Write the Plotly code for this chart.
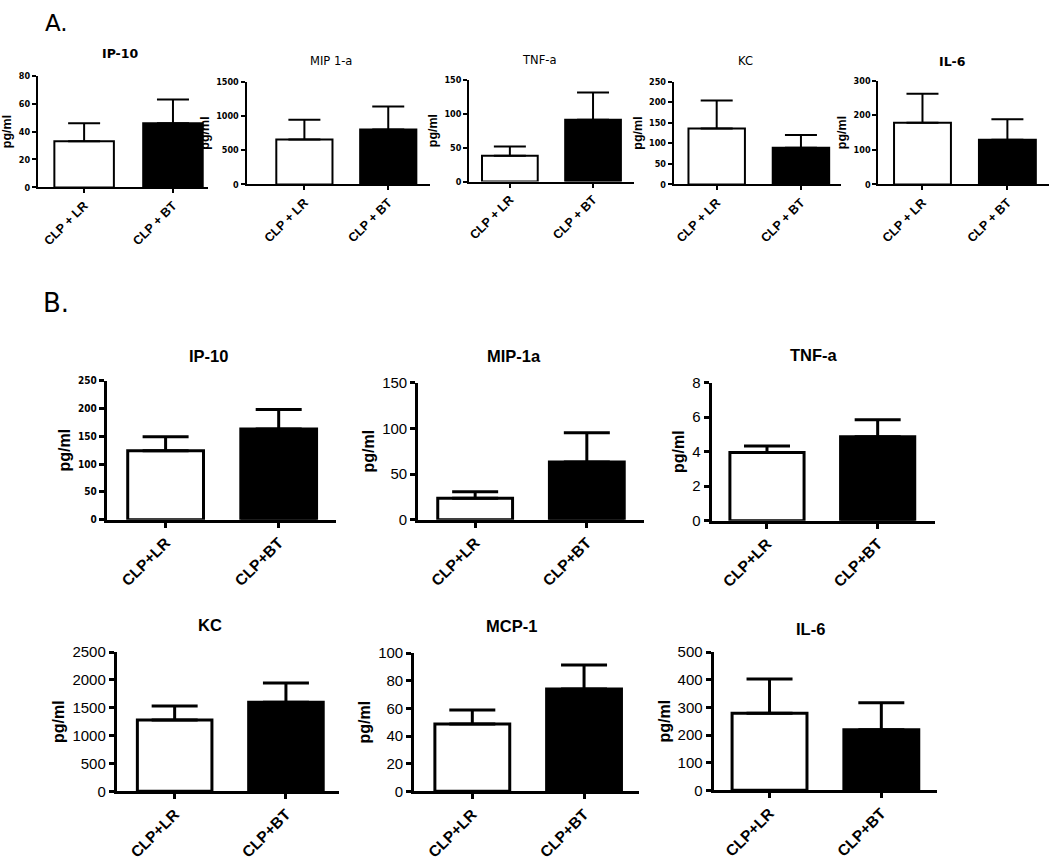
import plotly.graph_objects as go

# ---------------- data ----------------
groups_a = ["CLP + LR", "CLP + BT"]
groups_b = ["CLP+LR", "CLP+BT"]

# Panel A
a_titles = ["IP-10", "MIP 1-a", "TNF-a", "KC", "IL-6"]
a_ip10 = [33, 46]
a_ip10_err = [13, 17]
a_mip = [655, 800]
a_mip_err = [290, 335]
a_tnf = [38, 91]
a_tnf_err = [13.5, 40]
a_kc = [136, 89]
a_kc_err = [68, 31]
a_il6 = [178, 129]
a_il6_err = [84, 59]

# Panel B
b_titles = ["IP-10", "MIP-1a", "TNF-a", "KC", "MCP-1", "IL-6"]
b_ip10 = [124, 163]
b_ip10_err = [25, 35]
b_mip = [23.5, 63]
b_mip_err = [7, 32]
b_tnf = [3.95, 4.86]
b_tnf_err = [0.37, 0.98]
b_kc = [1280, 1600]
b_kc_err = [252, 344]
b_mcp = [48.7, 74]
b_mcp_err = [10.1, 17.3]
b_il6 = [279, 219]
b_il6_err = [124, 98]

a_yticks = [[0, 20, 40, 60, 80], [0, 500, 1000, 1500], [0, 50, 100, 150],
            [0, 50, 100, 150, 200, 250], [0, 100, 200, 300]]
b_yticks = [[0, 50, 100, 150, 200, 250], [0, 50, 100, 150], [0, 2, 4, 6, 8],
            [0, 500, 1000, 1500, 2000, 2500], [0, 20, 40, 60, 80, 100],
            [0, 100, 200, 300, 400, 500]]

# ---------------- layout helpers ----------------
W, H = 1050, 864
fig = go.Figure()
layout = dict(autosize=True, margin=dict(l=0, r=0, t=0, b=0, pad=0),
              paper_bgcolor="white", plot_bgcolor="white", showlegend=False)
annotations = []

def px_x(v):
    return v / W

def px_y(v):
    return 1 - v / H

def add_panel(idx, cats, vals, errs, yticks, box, xr, title, tpos,
              lw, tickfont, catfont, titlefont, ytitlefont, capw, ticklen):
    x0, x1, ytop, ybot = box
    xa = "x" if idx == 1 else f"x{idx}"
    ya = "y" if idx == 1 else f"y{idx}"
    fills = ["white", "black"]
    fig.add_trace(go.Bar(
        x=cats, y=vals, xaxis=xa, yaxis=ya,
        marker=dict(color=fills, line=dict(color="black", width=lw)),
        width=0.67,
        error_y=dict(type="data", symmetric=False, array=errs,
                     arrayminus=[0] * len(errs), color="black",
                     thickness=lw, width=capw),
        hoverinfo="skip"))
    key = "" if idx == 1 else str(idx)
    layout["xaxis" + key] = dict(
        domain=[px_x(x0), px_x(x1)], anchor=ya, range=xr,
        showline=True, linecolor="black", linewidth=lw,
        ticks="outside", ticklen=ticklen, tickwidth=lw, tickcolor="black",
        tickangle=-45, tickfont=catfont, showgrid=False, zeroline=False,
        fixedrange=True)
    layout["yaxis" + key] = dict(
        domain=[px_y(ybot), px_y(ytop)], anchor=xa,
        range=[0, yticks[-1]], tickvals=yticks,
        showline=True, linecolor="black", linewidth=lw,
        ticks="outside", ticklen=ticklen, tickwidth=lw, tickcolor="black",
        tickfont=tickfont, showgrid=False, zeroline=False,
        title=dict(text="pg/ml", font=ytitlefont, standoff=4),
        fixedrange=True)
    annotations.append(dict(text=title, x=px_x(tpos[0]), y=px_y(tpos[1]),
                            xref="paper", yref="paper", showarrow=False,
                            xanchor="center", yanchor="middle",
                            font=titlefont))

BOLD = "Liberation Sans"
small_bold = dict(family="DejaVu Sans Condensed", size=9, color="black", weight="bold")
a_cat = dict(family=BOLD, size=12.5, color="black", weight="bold")
a_ytitle = dict(family=BOLD, size=12.5, color="black", weight="bold")
a_title_bold = dict(family="DejaVu Sans", size=12.5, color="black", weight="bold")
a_title_reg = dict(family="DejaVu Sans", size=11.5, color="black")

# Panel A
a_data = [(a_ip10, a_ip10_err), (a_mip, a_mip_err), (a_tnf, a_tnf_err),
          (a_kc, a_kc_err), (a_il6, a_il6_err)]
a_boxes = [(36, 206, 68, 182), (245, 429, 74, 179), (468, 633, 72, 176),
           (673, 841, 74, 179), (878, 1049, 73, 179)]
a_xr = [[-0.52, 1.39], [-0.69, 1.5], [-0.49, 1.49], [-0.51, 1.48], [-0.52, 1.49]]
a_tpos = [(118, 45), (330, 53), (538, 52), (745, 53), (952, 54)]
a_tfont = [a_title_bold, a_title_reg, a_title_reg, a_title_reg, a_title_bold]
for i in range(5):
    add_panel(i + 1, groups_a, a_data[i][0], a_data[i][1], a_yticks[i],
              a_boxes[i], a_xr[i], a_titles[i], a_tpos[i], 2,
              small_bold, a_cat, a_tfont[i], a_ytitle, 16, 4)

# Panel B
b_tick = dict(family="Liberation Sans", size=15, color="black")
b_small = dict(family="DejaVu Sans Condensed", size=10, color="black", weight="bold")
b_cat = dict(family=BOLD, size=15.5, color="black", weight="bold")
b_ytitle = dict(family=BOLD, size=16, color="black", weight="bold")
b_title = dict(family=BOLD, size=16.5, color="black", weight="bold")
b_data = [(b_ip10, b_ip10_err), (b_mip, b_mip_err), (b_tnf, b_tnf_err),
          (b_kc, b_kc_err), (b_mcp, b_mcp_err), (b_il6, b_il6_err)]
b_boxes = [(105, 335, 379, 521), (417, 643, 381, 521), (711, 935, 381, 522),
           (115, 338, 656, 798), (413, 638, 657, 798), (713, 937, 656, 797)]
b_xr = [[-0.52, 1.51], [-0.51, 1.51], [-0.5, 1.52], [-0.52, 1.48],
        [-0.52, 1.49], [-0.5, 1.5]]
b_tpos = [(207, 354), (513, 354), (814, 353), (208, 628), (510, 629), (810, 632)]
for i in range(6):
    tf = b_small if i == 0 else b_tick
    add_panel(i + 6, groups_b, b_data[i][0], b_data[i][1], b_yticks[i],
              b_boxes[i], b_xr[i], b_titles[i], b_tpos[i], 3,
              tf, b_cat, b_title, b_ytitle, 23, 5)

annotations.append(dict(text="A.", x=px_x(55), y=px_y(14), xref="paper",
                        yref="paper", showarrow=False, xanchor="center",
                        yanchor="middle",
                        font=dict(family="DejaVu Sans", size=23, color="black")))
annotations.append(dict(text="B.", x=px_x(54), y=px_y(300), xref="paper",
                        yref="paper", showarrow=False, xanchor="center",
                        yanchor="middle",
                        font=dict(family="DejaVu Sans", size=26, color="black")))
layout["annotations"] = annotations
fig.update_layout(**layout)
fig.write_html(
    "out.html",
    default_width="100vw",
    default_height="100vh",
    config={"displayModeBar": False, "responsive": True},
    post_script=(
        "document.documentElement.style.margin='0';"
        "document.documentElement.style.padding='0';"
        "document.documentElement.style.overflow='hidden';"
        "document.body.style.margin='0';"
        "document.body.style.padding='0';"
        "document.body.style.overflow='hidden';"
        "var gd=document.getElementById('{plot_id}');"
        "gd.style.position='absolute';gd.style.left='0';gd.style.top='0';"
        "Plotly.Plots.resize(gd);"))
